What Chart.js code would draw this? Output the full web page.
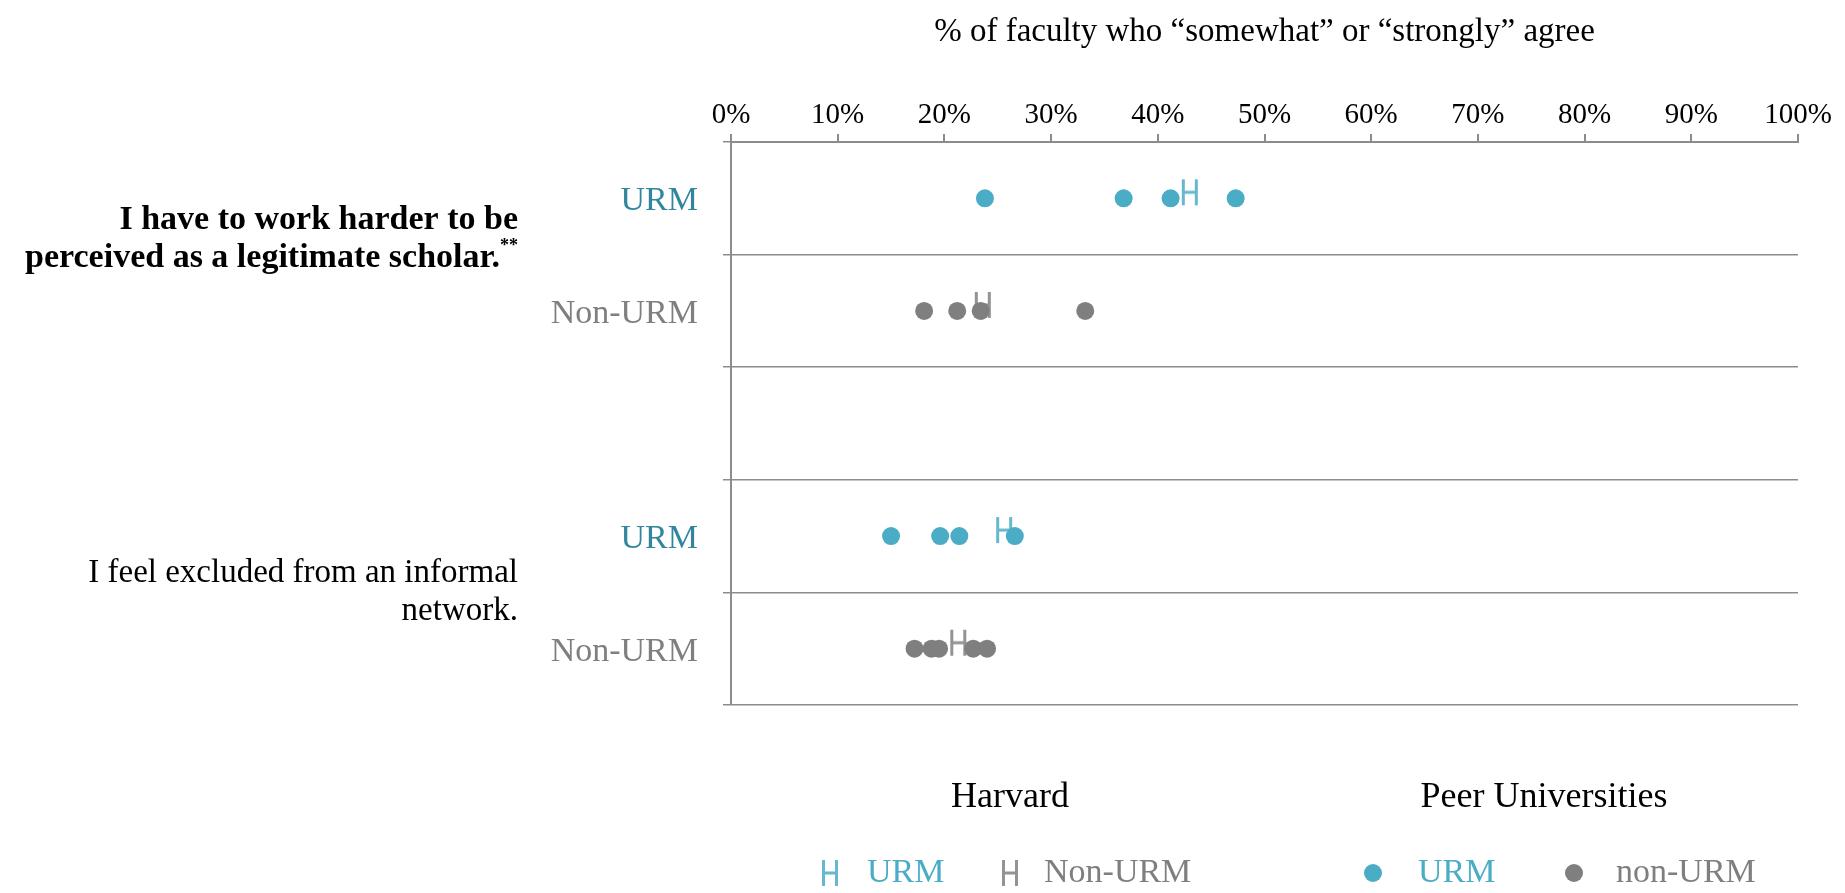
<!DOCTYPE html>
<html lang="en">
  <head>
    <meta charset="utf-8">
    <title>Faculty who agree, URM vs non-URM</title>
    <script src="https://cdn.jsdelivr.net/npm/chart.js@4.4.0/dist/chart.umd.min.js"></script>
    <style>
      body { margin: 0; background: #fff; }
    </style>
  </head>
  <body>
    <canvas id="chart" width="1845" height="893"></canvas>
    <script>
      // rows of the y axis (keys must be unique, labels repeat)
      const rowKeys = ['q1-urm', 'q1-non', 'gap', 'q2-urm', 'q2-non'];
      const rowLabels = ['URM', 'Non-URM', '', 'URM', 'Non-URM'];
      const questions = [
        ['I have to work harder to be', 'perceived as a legitimate scholar.'],
        ['I feel excluded from an informal', 'network.']
      ];
      const questionNotes = ['**', ''];

      // peer universities, one value per school (%)
      const peerUrmQ1 = [23.8, 36.8, 41.2, 47.3];
      const peerNonUrmQ1 = [18.1, 21.2, 23.4, 33.2];
      const peerUrmQ2 = [15.0, 19.6, 21.4, 26.6];
      const peerNonUrmQ2 = [17.2, 18.8, 19.5, 22.7, 24.0];

      // Harvard, [question 1, question 2]
      const harvardUrm = [43.0, 25.6];
      const harvardNonUrm = [23.6, 21.3];

      const teal = '#4BACC6';
      const tealDark = '#31859C';
      const grey = '#7F7F7F';
      const lineGrey = '#8C8C8C';
      const serif = "'Liberation Serif', 'DejaVu Serif', serif";

      function makeH(color) {
        // "H" marker for the Harvard series, drawn a bit above the point
        const c = document.createElement('canvas');
        c.width = 20;
        c.height = 42;
        const g = c.getContext('2d');
        g.strokeStyle = color;
        g.lineWidth = 3;
        g.beginPath();
        g.moveTo(3.5, 2); g.lineTo(3.5, 28);
        g.moveTo(16.5, 2); g.lineTo(16.5, 28);
        g.moveTo(3.5, 15); g.lineTo(16.5, 15);
        g.stroke();
        return c;
      }
      const hTeal = makeH('rgba(75,172,198,0.85)');
      const hGrey = makeH('rgba(128,128,128,0.85)');

      const pts = (vals, row) => vals.map(v => ({x: v, y: row}));

      const sideText = {
        id: 'sideText',
        afterDraw(chart) {
          const {ctx, chartArea: a, scales: {y}} = chart;
          ctx.save();
          ctx.textBaseline = 'middle';

          // question labels, between their two rows
          const pairs = [[0, 1], [3, 4]];
          const shifts = [-15, 0];
          const rightX = a.left - 213;
          questions.forEach((lines, i) => {
            const mid = (y.getPixelForValue(pairs[i][0]) + y.getPixelForValue(pairs[i][1])) / 2 + shifts[i];
            const font = i === 0 ? 'bold 34px ' + serif : '33px ' + serif;
            ctx.fillStyle = '#000';
            lines.forEach((txt, j) => {
              const ly = mid + (j - (lines.length - 1) / 2) * 38;
              let x = rightX;
              ctx.textAlign = 'right';
              if (j === lines.length - 1 && questionNotes[i]) {
                ctx.font = 'bold 18px ' + serif;
                const w = ctx.measureText(questionNotes[i]).width;
                ctx.fillText(questionNotes[i], x, ly - 12);
                x -= w;
              }
              ctx.font = font;
              ctx.fillText(txt, x, ly);
            });
          });

          // legend
          const hy = a.bottom + 93;
          const iy = a.bottom + 168;
          ctx.fillStyle = '#000';
          ctx.textAlign = 'center';
          ctx.font = '36px ' + serif;
          ctx.fillText('Harvard', a.left + 279, hy);
          ctx.fillText('Peer Universities', a.left + 813, hy);

          const items = [
            {img: hTeal, text: 'URM', color: teal, mx: 99, tx: 136},
            {img: hGrey, text: 'Non-URM', color: grey, mx: 279, tx: 313},
            {dot: teal, text: 'URM', color: teal, mx: 642, tx: 687},
            {dot: grey, text: 'non-URM', color: grey, mx: 843, tx: 885}
          ];
          ctx.textAlign = 'left';
          ctx.font = '34px ' + serif;
          items.forEach(it => {
            if (it.img) {
              ctx.drawImage(it.img, a.left + it.mx - 10, iy - 15);
            } else {
              ctx.fillStyle = it.dot;
              ctx.beginPath();
              ctx.arc(a.left + it.mx, iy, 9, 0, Math.PI * 2);
              ctx.fill();
            }
            ctx.fillStyle = it.color;
            ctx.fillText(it.text, a.left + it.tx, iy);
          });
          ctx.restore();
        }
      };

      const ctx = document.getElementById('chart').getContext('2d');
      new Chart(ctx, {
        type: 'scatter',
        data: {
          datasets: [
            {
              label: 'Peer URM',
              data: [...pts(peerUrmQ1, rowKeys[0]), ...pts(peerUrmQ2, rowKeys[3])],
              backgroundColor: teal,
              borderWidth: 0,
              pointRadius: 9
            },
            {
              label: 'Peer non-URM',
              data: [...pts(peerNonUrmQ1, rowKeys[1]), ...pts(peerNonUrmQ2, rowKeys[4])],
              backgroundColor: grey,
              borderWidth: 0,
              pointRadius: 9
            },
            {
              label: 'Harvard URM',
              data: [{x: harvardUrm[0], y: rowKeys[0]}, {x: harvardUrm[1], y: rowKeys[3]}],
              pointStyle: hTeal
            },
            {
              label: 'Harvard Non-URM',
              data: [{x: harvardNonUrm[0], y: rowKeys[1]}, {x: harvardNonUrm[1], y: rowKeys[4]}],
              pointStyle: hGrey
            }
          ]
        },
        options: {
          responsive: false,
          animation: false,
          layout: {padding: {top: 6, right: 47, bottom: 188, left: 0}},
          plugins: {
            legend: {display: false},
            tooltip: {enabled: false}
          },
          scales: {
            x: {
              type: 'linear',
              position: 'top',
              min: 0,
              max: 100,
              afterFit: s => { s.height = 136; },
              ticks: {
                stepSize: 10,
                padding: 1,
                color: '#000',
                font: {family: serif, size: 29},
                callback: v => v + '%'
              },
              grid: {drawOnChartArea: false, drawTicks: true, tickLength: 8, color: lineGrey, lineWidth: 2},
              border: {color: lineGrey, width: 2},
              title: {
                display: true,
                text: '% of faculty who \u201csomewhat\u201d or \u201cstrongly\u201d agree',
                color: '#000',
                font: {family: serif, size: 33},
                padding: {top: 7, bottom: 0}
              }
            },
            y: {
              type: 'category',
              labels: rowKeys,
              offset: true,
              afterFit: s => { s.width = 731; },
              ticks: {
                padding: 25,
                labelOffset: 3,
                font: {family: serif, size: 34},
                color: c => (c.index % 3 === 0 ? tealDark : grey),
                callback: (v, i) => rowLabels[i]
              },
              grid: {offset: true, drawTicks: true, tickLength: 8, color: lineGrey, lineWidth: 1.5},
              border: {color: lineGrey, width: 2}
            }
          }
        },
        plugins: [sideText]
      });
    </script>
  </body>
</html>
